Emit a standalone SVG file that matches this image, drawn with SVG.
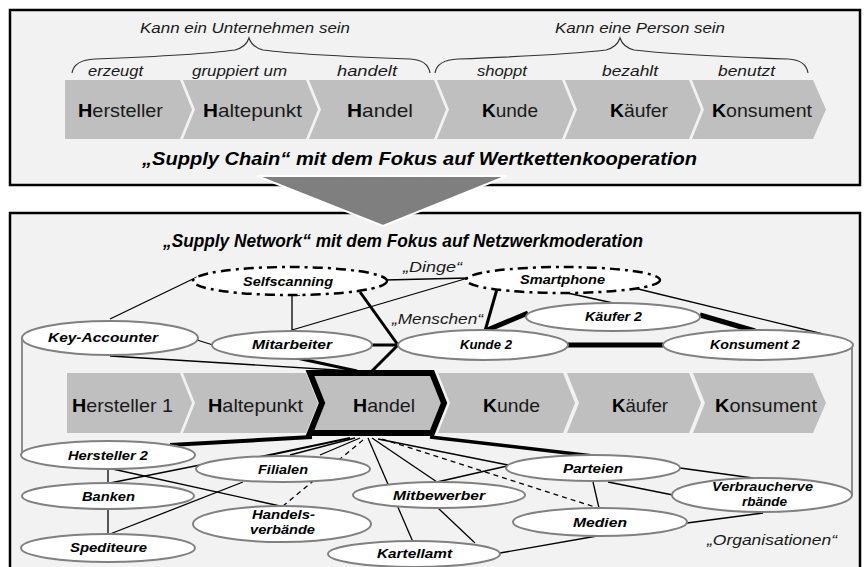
<svg xmlns="http://www.w3.org/2000/svg" width="864" height="567" viewBox="0 0 864 567">
<style>
.panel{fill:#f2f2f2;stroke:#000;stroke-width:2.5}
.chev{fill:#bfbfbf}
.ct{font-family:"Liberation Sans",Arial,sans-serif;font-size:18.5px;fill:#1a1a1a;text-anchor:start}
.ct tspan.b{font-weight:bold;fill:#000}
.it{font-family:"Liberation Sans",Arial,sans-serif;font-style:italic;font-size:14.5px;fill:#1a1a1a}
.title{font-family:"Liberation Sans",Arial,sans-serif;font-style:italic;font-weight:bold;font-size:18px;fill:#000}
.brace{fill:none;stroke:#333;stroke-width:1.2}
.el{fill:#fff;stroke:#808080;stroke-width:2}
.dd{fill:#fff;stroke:#000;stroke-width:2.5;stroke-dasharray:10 5 3 5}
.nt{font-family:"Liberation Sans",Arial,sans-serif;font-style:italic;font-weight:bold;font-size:13.5px;fill:#000}
.t{stroke:#000;stroke-width:1.3;fill:none}
.g{stroke:#555;stroke-width:1.3;fill:none}
.m{stroke:#000;stroke-width:3;fill:none}
.k{stroke:#000;stroke-width:5;fill:none}
.d{stroke:#000;stroke-width:1.3;stroke-dasharray:5 4;fill:none}
</style>
<rect width="864" height="567" fill="#fff"/>
<!-- panels -->
<rect class="panel" x="10" y="10" width="850" height="175"/>
<rect class="panel" x="10" y="213" width="850" height="370"/>

<!-- top panel content -->
<g id="top-labels">
<text class="it" x="140" y="33" textLength="210" lengthAdjust="spacingAndGlyphs">Kann ein Unternehmen sein</text>
<text class="it" x="555" y="33" textLength="170" lengthAdjust="spacingAndGlyphs">Kann eine Person sein</text>
<path class="brace" d="M72,73 Q74,60 95,59 Q200,55 235,50 Q246,47 249,38 Q252,47 263,50 Q300,55 410,59 Q428,60 430,73"/>
<path class="brace" d="M435,73 Q437,60 458,59 Q565,55 606,50 Q617,47 620,38 Q623,47 634,50 Q675,55 788,59 Q806,60 808,73"/>
<text class="it" x="88" y="76" textLength="55" lengthAdjust="spacingAndGlyphs">erzeugt</text>
<text class="it" x="192" y="76" textLength="95" lengthAdjust="spacingAndGlyphs">gruppiert um</text>
<text class="it" x="337" y="76" textLength="60" lengthAdjust="spacingAndGlyphs">handelt</text>
<text class="it" x="477" y="76" textLength="50" lengthAdjust="spacingAndGlyphs">shoppt</text>
<text class="it" x="602" y="76" textLength="56" lengthAdjust="spacingAndGlyphs">bezahlt</text>
<text class="it" x="718" y="76" textLength="57" lengthAdjust="spacingAndGlyphs">benutzt</text>
</g>
<g id="top-hersteller"><polygon class="chev" points="65,80 180,80 192,109.5 180,139 65,139"/><text class="ct" x="78" y="117" textLength="85" lengthAdjust="spacingAndGlyphs"><tspan class="b">H</tspan>ersteller</text></g>
<g id="top-haltepunkt"><polygon class="chev" points="183,80 306,80 318,109.5 306,139 183,139 195,109.5"/><text class="ct" x="203" y="117" textLength="99" lengthAdjust="spacingAndGlyphs"><tspan class="b">H</tspan>altepunkt</text></g>
<g id="top-handel"><polygon class="chev" points="309,80 434,80 446,109.5 434,139 309,139 321,109.5"/><text class="ct" x="347" y="117" textLength="66" lengthAdjust="spacingAndGlyphs"><tspan class="b">H</tspan>andel</text></g>
<g id="top-kunde"><polygon class="chev" points="437,80 562,80 574,109.5 562,139 437,139 449,109.5"/><text class="ct" x="482" y="117" textLength="56" lengthAdjust="spacingAndGlyphs"><tspan class="b">K</tspan>unde</text></g>
<g id="top-kaeufer"><polygon class="chev" points="565,80 689,80 701,109.5 689,139 565,139 577,109.5"/><text class="ct" x="610" y="117" textLength="58" lengthAdjust="spacingAndGlyphs"><tspan class="b">K</tspan>äufer</text></g>
<g id="top-konsument"><polygon class="chev" points="692,80 813,80 826,109.5 813,139 692,139 704,109.5"/><text class="ct" x="712" y="117" textLength="100" lengthAdjust="spacingAndGlyphs"><tspan class="b">K</tspan>onsument</text></g>
<text class="title" x="142" y="165" textLength="555" lengthAdjust="spacingAndGlyphs">„Supply Chain“ mit dem Fokus auf  Wertkettenkooperation</text>

<!-- big arrow -->
<polygon id="arrow" points="257,176 507,176 383,226" fill="#7f7f7f" stroke="#fff" stroke-width="2"/>

<!-- bottom panel -->
<text class="title" x="163" y="247" textLength="480" lengthAdjust="spacingAndGlyphs">„Supply Network“ mit dem Fokus auf Netzwerkmoderation</text>
<text class="it" x="403" y="272" textLength="59" lengthAdjust="spacingAndGlyphs">„Dinge“</text>
<text class="it" x="392" y="324" textLength="91" lengthAdjust="spacingAndGlyphs">„Menschen“</text>
<text class="it" x="707" y="545" textLength="130" lengthAdjust="spacingAndGlyphs">„Organisationen“</text>

<g id="b-hersteller1"><polygon class="chev" points="67,373 180,373 192,403 180,433 67,433"/><text class="ct" x="72" y="412" textLength="101" lengthAdjust="spacingAndGlyphs"><tspan class="b">H</tspan>ersteller 1</text></g>
<g id="b-haltepunkt"><polygon class="chev" points="183,373 306,373 318,403 306,433 183,433 195,403"/><text class="ct" x="208" y="412" textLength="95" lengthAdjust="spacingAndGlyphs"><tspan class="b">H</tspan>altepunkt</text></g>
<g id="b-kunde"><polygon class="chev" points="438,373 563,373 575,403 563,433 438,433 450,403"/><text class="ct" x="483" y="412" textLength="57" lengthAdjust="spacingAndGlyphs"><tspan class="b">K</tspan>unde</text></g>
<g id="b-kaeufer"><polygon class="chev" points="567,373 689,373 701,403 689,433 567,433 579,403"/><text class="ct" x="612" y="412" textLength="56" lengthAdjust="spacingAndGlyphs"><tspan class="b">K</tspan>äufer</text></g>
<g id="b-konsument"><polygon class="chev" points="693,373 813,373 826,403 813,433 693,433 705,403"/><text class="ct" x="715" y="412" textLength="102" lengthAdjust="spacingAndGlyphs"><tspan class="b">K</tspan>onsument</text></g>
<g id="b-handel"><polygon class="chev" points="310,373 432,373 444,403 432,433 310,433 322,403" stroke="#000" stroke-width="6" stroke-linejoin="miter"/><text class="ct" x="353" y="412" textLength="62" lengthAdjust="spacingAndGlyphs"><tspan class="b">H</tspan>andel</text></g>

<g id="connectors">
<line class="t" x1="110" y1="319" x2="197" y2="277"/>
<line class="t" x1="385" y1="280" x2="468" y2="278"/>
<line class="t" x1="468" y1="278" x2="292" y2="330"/>
<polyline class="t" points="300,295 292,295 292,330"/>
<line class="t" x1="197" y1="340" x2="213" y2="345"/>
<line class="t" x1="110" y1="356" x2="353" y2="371"/>
<line class="g" x1="22" y1="338" x2="22" y2="455"/>
<line class="g" x1="852" y1="345" x2="852" y2="495"/>
<line class="t" x1="630" y1="287" x2="823" y2="334"/>
<line class="t" x1="563" y1="292" x2="613" y2="303"/>
<line class="m" x1="292" y1="357" x2="357" y2="371"/>
<line class="m" x1="370" y1="345" x2="398" y2="345"/>
<line class="m" x1="360" y1="292" x2="398" y2="345"/>
<line class="m" x1="398" y1="345" x2="372" y2="371"/>
<line class="m" x1="497" y1="289" x2="485" y2="331"/>
<line class="k" x1="485" y1="331" x2="528" y2="313"/>
<line class="k" x1="700" y1="315" x2="755" y2="331"/>
<line class="k" x1="568" y1="345" x2="663" y2="345"/>
<line class="k" x1="170" y1="445" x2="312" y2="437" style="stroke-width:4"/>
<line class="k" x1="430" y1="437" x2="593" y2="456" style="stroke-width:3.5"/>
<line class="t" x1="350" y1="438" x2="260" y2="457" style="stroke-width:2"/>
<line class="t" x1="355" y1="438" x2="290" y2="455"/>
<line class="t" x1="360" y1="438" x2="320" y2="455"/>
<line class="d" x1="363" y1="440" x2="283" y2="506"/>
<line class="t" x1="368" y1="438" x2="413" y2="542"/>
<line class="t" x1="372" y1="438" x2="437" y2="482"/>
<line class="t" x1="437" y1="482" x2="507" y2="466"/>
<line class="t" x1="378" y1="439" x2="508" y2="465"/>
<line class="d" x1="382" y1="439" x2="598" y2="508"/>
<line class="t" x1="438" y1="508" x2="475" y2="543"/>
<line class="t" x1="500" y1="553" x2="597" y2="536"/>
<line class="t" x1="593" y1="482" x2="599" y2="508"/>
<line class="t" x1="680" y1="468" x2="753" y2="478"/>
<line class="t" x1="608" y1="482" x2="673" y2="495"/>
<line class="t" x1="687" y1="523" x2="763" y2="513"/>
<line class="t" x1="108" y1="468" x2="108" y2="483"/>
<line class="t" x1="108" y1="468" x2="280" y2="506"/>
<line class="t" x1="110" y1="483" x2="200" y2="465"/>
<line class="t" x1="243" y1="482" x2="110" y2="534"/>
<line class="t" x1="108" y1="508" x2="108" y2="534"/>
</g>

<g id="n-selfscanning"><ellipse class="dd" cx="290" cy="281" rx="97" ry="14"/><text class="nt" x="243" y="286" textLength="90" lengthAdjust="spacingAndGlyphs">Selfscanning</text></g>
<g id="n-smartphone"><ellipse class="dd" cx="563" cy="280" rx="97" ry="13"/><text class="nt" x="520" y="284" textLength="85" lengthAdjust="spacingAndGlyphs">Smartphone</text></g>
<g id="n-keyaccounter"><ellipse class="el" cx="110" cy="338" rx="88" ry="17"/><text class="nt" x="48" y="342" textLength="110" lengthAdjust="spacingAndGlyphs">Key-Accounter</text></g>
<g id="n-mitarbeiter"><ellipse class="el" cx="292" cy="345" rx="80" ry="14"/><text class="nt" x="252" y="349" textLength="80" lengthAdjust="spacingAndGlyphs">Mitarbeiter</text></g>
<g id="n-kunde2"><ellipse class="el" cx="483" cy="345" rx="85" ry="15"/><text class="nt" x="460" y="349" textLength="52" lengthAdjust="spacingAndGlyphs">Kunde 2</text></g>
<g id="n-kaeufer2"><ellipse class="el" cx="613" cy="317" rx="87" ry="14"/><text class="nt" x="585" y="321" textLength="57" lengthAdjust="spacingAndGlyphs">Käufer 2</text></g>
<g id="n-konsument2"><ellipse class="el" cx="758" cy="345" rx="95" ry="15"/><text class="nt" x="710" y="349" textLength="90" lengthAdjust="spacingAndGlyphs">Konsument 2</text></g>
<g id="n-hersteller2"><ellipse class="el" cx="108" cy="455" rx="87" ry="14"/><text class="nt" x="68" y="460" textLength="80" lengthAdjust="spacingAndGlyphs">Hersteller 2</text></g>
<g id="n-filialen"><ellipse class="el" cx="283" cy="469" rx="87" ry="13"/><text class="nt" x="258" y="474" textLength="50" lengthAdjust="spacingAndGlyphs">Filialen</text></g>
<g id="n-banken"><ellipse class="el" cx="108" cy="496" rx="86" ry="13"/><text class="nt" x="82" y="501" textLength="53" lengthAdjust="spacingAndGlyphs">Banken</text></g>
<g id="n-handelsverbaende"><ellipse class="el" cx="282" cy="524" rx="89" ry="18"/><text class="nt" x="252" y="519" textLength="63" lengthAdjust="spacingAndGlyphs">Handels-</text><text class="nt" x="250" y="534" textLength="65" lengthAdjust="spacingAndGlyphs">verbände</text></g>
<g id="n-spediteure"><ellipse class="el" cx="108" cy="548" rx="87" ry="14"/><text class="nt" x="70" y="552" textLength="77" lengthAdjust="spacingAndGlyphs">Spediteure</text></g>
<g id="n-kartellamt"><ellipse class="el" cx="414" cy="554" rx="86" ry="13"/><text class="nt" x="377" y="558" textLength="75" lengthAdjust="spacingAndGlyphs">Kartellamt</text></g>
<g id="n-mitbewerber"><ellipse class="el" cx="439" cy="495" rx="86" ry="13"/><text class="nt" x="393" y="500" textLength="92" lengthAdjust="spacingAndGlyphs">Mitbewerber</text></g>
<g id="n-parteien"><ellipse class="el" cx="593" cy="468" rx="87" ry="13"/><text class="nt" x="563" y="473" textLength="60" lengthAdjust="spacingAndGlyphs">Parteien</text></g>
<g id="n-verbraucherverbaende"><ellipse class="el" cx="762" cy="495" rx="90" ry="17"/><text class="nt" x="712" y="491" textLength="101" lengthAdjust="spacingAndGlyphs">Verbraucherve</text><text class="nt" x="742" y="506" textLength="45" lengthAdjust="spacingAndGlyphs">rbände</text></g>
<g id="n-medien"><ellipse class="el" cx="600" cy="522" rx="87" ry="14"/><text class="nt" x="573" y="527" textLength="54" lengthAdjust="spacingAndGlyphs">Medien</text></g>
</svg>
